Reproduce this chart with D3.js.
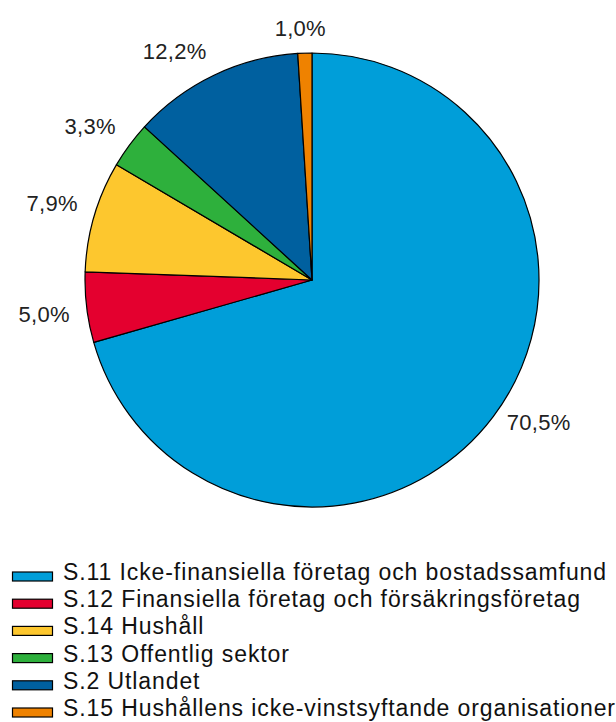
<!DOCTYPE html>
<html>
<head>
<meta charset="utf-8">
<script src="https://cdn.jsdelivr.net/npm/d3@7"></script>
<style>
  body { margin: 0; background: #fff; }
  svg { display: block; font-family: "Liberation Sans", Arial, sans-serif; }
</style>
</head>
<body>
<svg id="chart" width="616" height="722"></svg>
<script>
const categories = [
  "S.11 Icke-finansiella företag och bostadssamfund",
  "S.12 Finansiella företag och försäkringsföretag",
  "S.14 Hushåll",
  "S.13 Offentlig sektor",
  "S.2 Utlandet",
  "S.15 Hushållens icke-vinstsyftande organisationer"
];
const values = [70.5, 5.0, 7.9, 3.3, 12.2, 1.0];
const valueLabels = ["70,5%", "5,0%", "7,9%", "3,3%", "12,2%", "1,0%"];
const colors = ["#009ed9", "#e4002f", "#fdc72e", "#2eb03c", "#00609f", "#ef8200"];

const svg = d3.select("#chart");
const cx = 312, cy = 280, R = 227;

const pie = d3.pie().sort(null).value(d => d)(values);
const arc = d3.arc().innerRadius(0).outerRadius(R);

const g = svg.append("g").attr("transform", `translate(${cx},${cy})`);
g.selectAll("path.slice")
  .data(pie)
  .join("path")
  .attr("class", "slice")
  .attr("d", arc)
  .attr("fill", (d, i) => colors[i])
  .attr("stroke", "#000")
  .attr("stroke-width", 1.2)
  .attr("stroke-linejoin", "round");

// labels: nearest box corner placed at distance D along the mid angle
const D = 244;
const lab = g.selectAll("text.lbl")
  .data(pie)
  .join("text")
  .attr("class", "lbl")
  .attr("font-size", 22)
  .attr("letter-spacing", 0.3)
  .attr("fill", "#222")
  .attr("text-anchor", "middle")
  .attr("dominant-baseline", "central")
  .text((d, i) => valueLabels[i]);

lab.each(function(d) {
  const bb = this.getBBox();
  const w = bb.width, h = 16;
  const a = (d.startAngle + d.endAngle) / 2;
  const s = Math.sin(a), c = Math.cos(a);
  const px = D * s, py = -D * c;
  const fx = Math.abs(s) > 0.2 ? Math.sign(s) : s / 0.2;
  const fy = Math.abs(c) > 0.2 ? -Math.sign(c) : -c / 0.2;
  d3.select(this)
    .attr("x", px + fx * w / 2)
    .attr("y", py + fy * h / 2 - (c < -0.3 ? 12 : 0));
});

// legend
const legend = svg.append("g");
const rowY = d3.scalePoint().domain(d3.range(categories.length)).range([572, 708]);
const rows = legend.selectAll("g.row")
  .data(categories)
  .join("g")
  .attr("class", "row")
  .attr("transform", (d, i) => `translate(0,${rowY(i)})`);
rows.append("rect")
  .attr("x", 12.5).attr("y", 0)
  .attr("width", 40).attr("height", 9)
  .attr("fill", (d, i) => colors[i])
  .attr("stroke", "#000")
  .attr("stroke-width", 1.2);
rows.append("text")
  .attr("x", 63)
  .attr("y", 0)
  .attr("dominant-baseline", "central")
  .attr("font-size", 23)
  .attr("letter-spacing", 0.9)
  .attr("fill", "#111")
  .text(d => d);
</script>
</body>
</html>
